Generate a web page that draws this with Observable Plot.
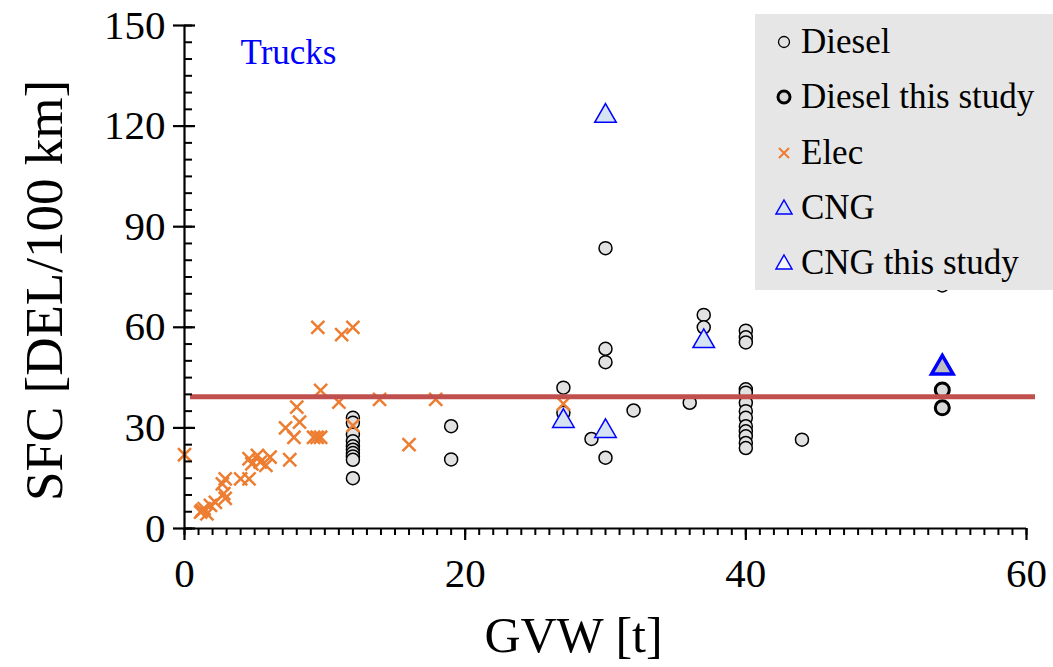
<!DOCTYPE html>
<html><head><meta charset="utf-8">
<script src="https://cdn.jsdelivr.net/npm/d3@7"></script>
<script src="https://cdn.jsdelivr.net/npm/@observablehq/plot@0.6"></script>
<style>
body{margin:0;background:#fff;}
#wrap{position:relative;width:1053px;height:667px;font-family:"Liberation Serif","Times New Roman",serif;}
#legend{position:absolute;left:755px;top:14px;width:298px;height:276px;background:#e6e6e6;}
.row{position:absolute;left:0;height:44px;display:flex;align-items:center;font-size:35px;color:#000;white-space:nowrap;}
.row svg{margin-left:19px;margin-right:7px;}
</style></head><body><div id="wrap"></div>
<script>
// ---- data (GVW in t, SFC in DEL/100 km) ----
const dieselGVW = [12,12,12,12,12,12,12,12,12,12, 19,19, 27,27, 29, 30,30,30,30, 32, 36, 37,37,
                   40,40,40,40,40,40,40,40,40,40,40,40,40, 44, 54];
const dieselSFC = [33,31.5,28,26,24.5,23.5,22.5,21.5,20.5,15, 30.5,20.6, 42,34.5, 26.7, 83.6,53.6,49.6,21.1, 35.2, 37.5, 63.7,60,
                   59,57,55.5,41.5,40.5,37.5,35,33,30.5,29,27.5,25.5,24, 26.5, 72.5];
const dieselStudyGVW = [54, 54];
const dieselStudySFC = [41.3, 36];
const elecGVW = [0, 1.15, 1.25, 1.4, 1.6, 1.85, 2.2, 2.7, 2.8, 2.9, 2.9, 4.0, 4.6, 4.6, 4.8, 5.2, 5.4, 5.8, 6.1, 7.2,
                 7.5, 7.8, 8.0, 8.2, 9.2, 9.45, 9.7, 9.5, 9.7, 11, 11.2, 12, 12, 13.9, 16, 17.9, 27];
const elecSFC = [22, 4.9, 5.4, 5.9, 4.4, 6.9, 7.8, 13.3, 10.4, 9.0, 14.8, 14.8, 14.8, 20.8, 19.3, 21.8, 19.8, 18.8, 21.3, 30,
                 20.5, 27.2, 36.2, 31.7, 27.2, 27.2, 27.2, 60, 41.2, 37.7, 57.8, 60, 30.7, 38.5, 25, 38.5, 37.2];
const cngGVW = [27, 30, 30, 37];
const cngSFC = [32.0, 123.0, 29.0, 55.8];
const cngStudyGVW = [54];
const cngStudySFC = [47.9];
const averageSFC = [39.3];
const xMajorTicks = [0, 20, 40, 60];
const xMinorTicks = d3.range(0, 61, 1);
const yMajorTicks = [0, 30, 60, 90, 120, 150];
const yMinorTicks = d3.range(0, 151, 5);
const seriesNames = ["Diesel", "Diesel this study", "Elec", "CNG", "CNG this study"];

const rows = (xs, ys) => xs.map((x, i) => ({gvw: x, sfc: ys[i]}));
const font = '"Liberation Serif","Times New Roman",serif';

const chart = Plot.plot({
  width: 1053, height: 667,
  marginLeft: 184, marginRight: 27, marginTop: 25, marginBottom: 139,
  style: {fontFamily: font, background: "white", overflow: "visible"},
  x: {domain: [0, 60]},
  y: {domain: [0, 150]},
  marks: [
    Plot.axisX(xMajorTicks, {tickSize: 0, tickPadding: 29, fontSize: 41, fill: "#000", label: null}),
    Plot.axisY(yMajorTicks, {tickSize: 0, tickPadding: 19, fontSize: 41, fill: "#000", label: null}),
    Plot.dot(rows(dieselGVW, dieselSFC), {x: "gvw", y: "sfc", r: 6.5, fill: "#e2e2e2", stroke: "#000", strokeWidth: 1.5}),
    Plot.dot(rows(dieselStudyGVW, dieselStudySFC), {x: "gvw", y: "sfc", r: 7, fill: "#d9d9d9", stroke: "#000", strokeWidth: 3}),
    Plot.dot(rows(elecGVW, elecSFC), {x: "gvw", y: "sfc", symbol: "times", r: 6, stroke: "#ed7d31", strokeWidth: 2.5}),
    Plot.dot(rows(cngGVW, cngSFC), {x: "gvw", y: "sfc", symbol: "triangle", r: 8, fill: "#d5e3f3", stroke: "#0000ff", strokeWidth: 1.5}),
    Plot.dot(rows(cngStudyGVW, cngStudySFC), {x: "gvw", y: "sfc", symbol: "triangle", r: 8, fill: "#bfbfbf", stroke: "#0000ff", strokeWidth: 3.5}),
    Plot.ruleY(averageSFC, {stroke: "#c0504d", strokeWidth: 5, insetLeft: 6, insetRight: -9}),
    Plot.text(["Trucks"], {frameAnchor: "top-left", dx: 56, dy: 27, textAnchor: "start", lineAnchor: "middle", fill: "#0000ff", fontSize: 35}),
    Plot.text(["SFC [DEL/100 km]"], {frameAnchor: "left", dx: -139, dy: 13.5, rotate: -90, textAnchor: "middle", lineAnchor: "middle", fontSize: 53, fill: "#000"}),
    Plot.text(["GVW [t]"], {frameAnchor: "bottom", dx: -32, dy: 107, textAnchor: "middle", lineAnchor: "middle", fontSize: 50, fill: "#000"}),
    // axis lines and tick marks drawn last so nothing covers them
    Plot.axisX(xMinorTicks, {tickSize: 7, fill: "none", stroke: "#000", strokeWidth: 2, label: null}),
    Plot.axisX(xMajorTicks, {tickSize: 12, fill: "none", stroke: "#000", strokeWidth: 2.2, label: null}),
    Plot.axisY(yMinorTicks, {tickSize: -8, fill: "none", stroke: "#000", strokeWidth: 2, label: null}),
    Plot.axisY(yMajorTicks, {tickSize: -11, fill: "none", stroke: "#000", strokeWidth: 2.2, label: null}),
    Plot.axisY(yMajorTicks, {tickSize: 11, fill: "none", stroke: "#000", strokeWidth: 2.2, label: null}),
    Plot.ruleY([0], {stroke: "#000", strokeWidth: 2.2}),
    Plot.ruleX([0], {stroke: "#000", strokeWidth: 2.2})
  ]
});
const wrap = document.getElementById("wrap");
wrap.appendChild(chart);

// ---- legend overlay ----
const legendSymbols = [
  '<circle cx="10" cy="10" r="5.5" fill="#e2e2e2" stroke="#000" stroke-width="1.3"/>',
  '<circle cx="10" cy="10" r="6" fill="#d9d9d9" stroke="#000" stroke-width="3"/>',
  '<path d="M5,5L15,15M15,5L5,15" stroke="#ed7d31" stroke-width="2"/>',
  '<path d="M10,2L18,16L2,16Z" fill="#d5e3f3" stroke="#0000ff" stroke-width="1.5"/>',
  '<path d="M10,2L18,16L2,16Z" fill="#f3f6fb" stroke="#0000ff" stroke-width="1.5"/>'
];
const legend = document.createElement("div");
legend.id = "legend";
seriesNames.forEach((name, i) => {
  const row = document.createElement("div");
  row.className = "row";
  row.style.top = (28 + i * 55.3 - 22) + "px";
  row.innerHTML = `<svg width="20" height="20" viewBox="0 0 20 20">${legendSymbols[i]}</svg><span>${name}</span>`;
  legend.appendChild(row);
});
wrap.appendChild(legend);
</script>
</body></html>
